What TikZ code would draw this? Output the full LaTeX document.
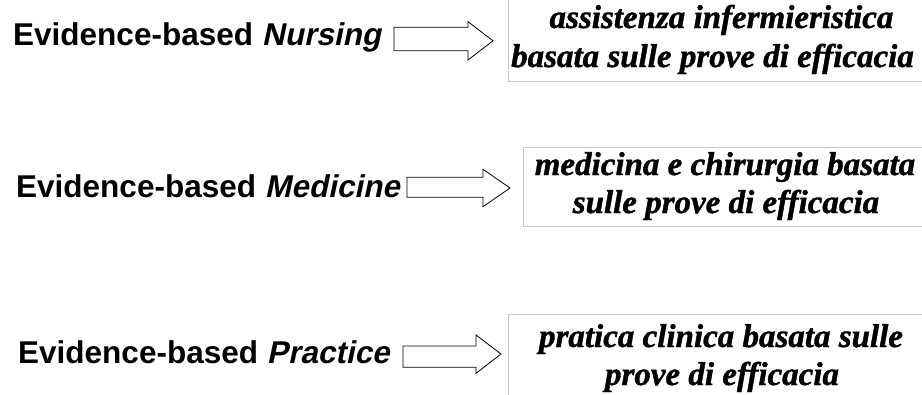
\documentclass[tikz,border=0pt]{standalone}
\usepackage{fontspec}
\setmainfont{Liberation Serif}
\newfontfamily\arialf{Liberation Sans}
\newfontfamily\arialobl{Liberation Sans}[BoldFeatures={FakeSlant=0.21}]
\newfontfamily\timesbi{Liberation Serif}[BoldItalicFeatures={FakeBold=1.2}]
\newcommand{\obl}[1]{{\arialobl\bfseries #1}}
\begin{document}
\begin{tikzpicture}[x=1pt,y=-1pt,
  lbl/.style={anchor=base west,inner sep=0pt,font=\arialf\bfseries\fontsize{31.5}{36}\selectfont},
  itl/.style={anchor=base,inner sep=0pt,font=\timesbi\bfseries\itshape\fontsize{33}{39}\selectfont},
  boxframe/.style={draw=black!22,line width=0.8pt},
  blockarr/.style={draw=black,fill=white,line width=0.8pt,line join=miter}]
\useasboundingbox (0,0) rectangle (922,394);
\clip (0,0) rectangle (922,394);
\fill[white] (0,0) rectangle (922,394);
% boxes
\draw[boxframe] (508,-10) rectangle (935,81);
\draw[boxframe] (523,147) rectangle (935,226);
\draw[boxframe] (508,314) rectangle (935,405);
% labels
\node[lbl] (l1) at (13,45) {Evidence-based \obl{Nursing}};
\node[lbl] (l2) at (16,197) {Evidence-based \obl{Medicine}};
\node[lbl] (l3) at (18,363) {Evidence-based \obl{Practice}};
% arrows
\draw[blockarr] (394,27.3) -- (468,27.3) -- (468,21.7) -- (493,40.8) -- (468,60) -- (468,50.7) -- (394,50.7) -- cycle;
\draw[blockarr] (407,177.3) -- (483,177.3) -- (483,169.3) -- (510,188) -- (483,206.7) -- (483,197.3) -- (407,197.3) -- cycle;
\draw[blockarr] (403,346) -- (476,346) -- (476,335) -- (501,354) -- (476,373.3) -- (476,367.3) -- (403,367.3) -- cycle;
% texts
\node[itl] (t1a) at (721.5,28) {assistenza infermieristica};
\node[itl] (t1b) at (712.5,67) {basata sulle prove di efficacia};
\node[itl] (t2a) at (725,175) {medicina e chirurgia basata};
\node[itl] (t2b) at (726,213) {sulle prove di efficacia};
\node[itl] (t3a) at (721,347) {pratica clinica basata sulle};
\node[itl] (t3b) at (722,385) {prove di efficacia};
\end{tikzpicture}
\end{document}
